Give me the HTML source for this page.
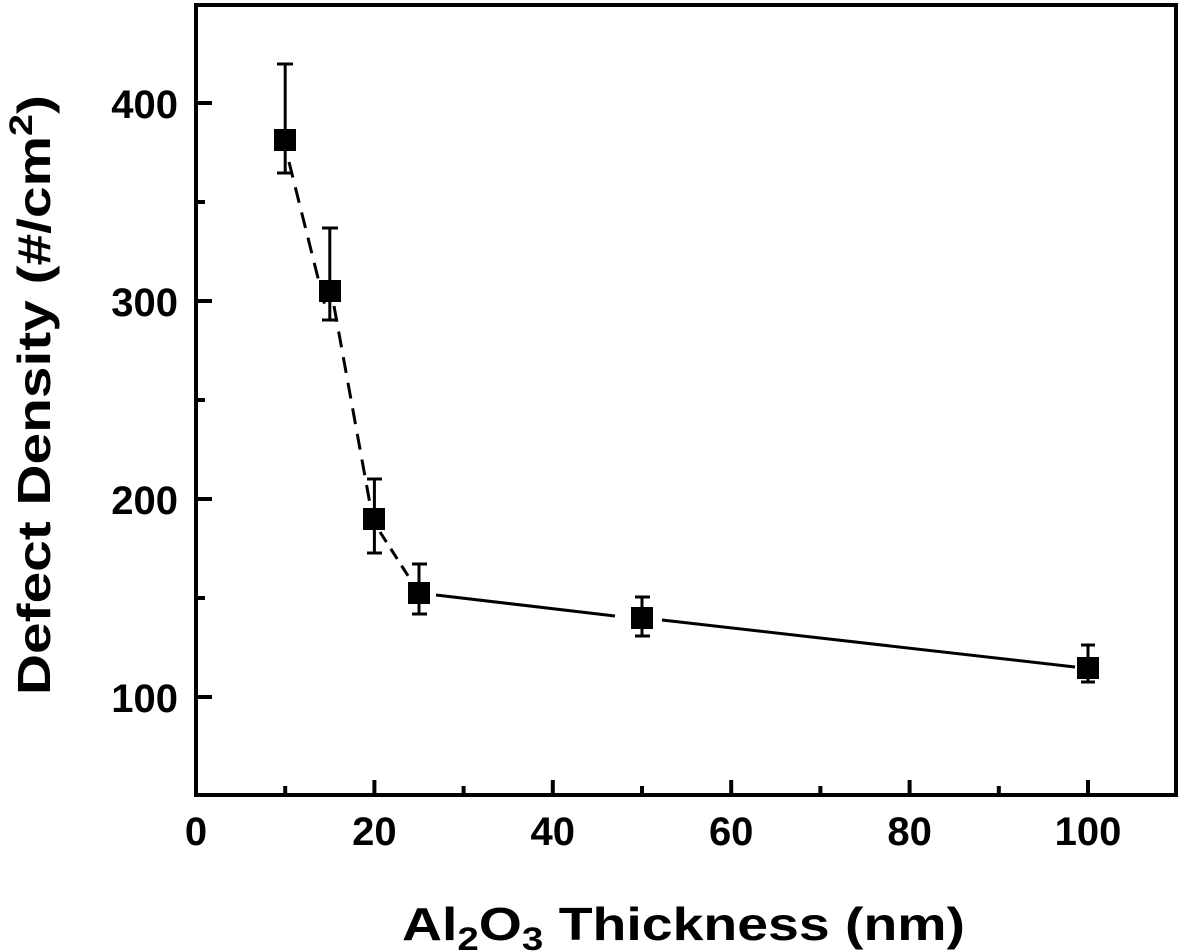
<!DOCTYPE html>
<html><head><meta charset="utf-8"><style>
html,body{margin:0;padding:0;background:#fff;}
svg{display:block;}
text{font-family:"Liberation Sans",Arial,sans-serif;font-weight:bold;fill:#000;}
</style></head><body>
<svg width="1181" height="951" viewBox="0 0 1181 951" xmlns="http://www.w3.org/2000/svg">
<rect x="196" y="5" width="980" height="790" fill="none" stroke="#000" stroke-width="4"/>
<g stroke="#000" stroke-width="4">
<!-- x major ticks -->
<line x1="196" y1="795" x2="196" y2="780"/>
<line x1="374.4" y1="795" x2="374.4" y2="780"/>
<line x1="552.8" y1="795" x2="552.8" y2="780"/>
<line x1="731.2" y1="795" x2="731.2" y2="780"/>
<line x1="909.6" y1="795" x2="909.6" y2="780"/>
<line x1="1088" y1="795" x2="1088" y2="780"/>
<!-- x minor -->
<line x1="285.2" y1="795" x2="285.2" y2="786"/>
<line x1="463.6" y1="795" x2="463.6" y2="786"/>
<line x1="642" y1="795" x2="642" y2="786"/>
<line x1="820.4" y1="795" x2="820.4" y2="786"/>
<line x1="998.8" y1="795" x2="998.8" y2="786"/>
<!-- y major -->
<line x1="196" y1="103" x2="212" y2="103"/>
<line x1="196" y1="301" x2="212" y2="301"/>
<line x1="196" y1="499" x2="212" y2="499"/>
<line x1="196" y1="697" x2="212" y2="697"/>
<!-- y minor -->
<line x1="196" y1="202" x2="205" y2="202"/>
<line x1="196" y1="400" x2="205" y2="400"/>
<line x1="196" y1="598" x2="205" y2="598"/>
</g>
<!-- tick labels -->
<g font-size="40" text-anchor="end">
<text x="178" y="118">400</text>
<text x="178" y="316">300</text>
<text x="178" y="514">200</text>
<text x="178" y="712">100</text>
</g>
<g font-size="40" text-anchor="middle">
<text x="196" y="845">0</text>
<text x="374.4" y="845">20</text>
<text x="552.8" y="845">40</text>
<text x="731.2" y="845">60</text>
<text x="909.6" y="845">80</text>
<text x="1088" y="845">100</text>
</g>
<!-- axis labels -->
<text x="402" y="940" font-size="46" textLength="563" lengthAdjust="spacingAndGlyphs">Al<tspan font-size="32" dy="10">2</tspan><tspan dy="-10">O</tspan><tspan font-size="32" dy="10">3</tspan><tspan dy="-10"> Thickness (nm)</tspan></text>
<text transform="translate(50,695) rotate(-90)" x="0" y="0" font-size="46" textLength="600" lengthAdjust="spacingAndGlyphs">Defect Density (#/cm<tspan font-size="32" dy="-18">2</tspan><tspan dy="18">)</tspan></text>
<!-- lines -->
<g stroke="#000" stroke-width="3" fill="none">
<polyline points="289,162 325,306" stroke-dasharray="16,10"/>
<polyline points="334,306 370,504" stroke-dasharray="16,10"/>
<polyline points="380,532 412,582" stroke-dasharray="12,8"/>
<line x1="436" y1="595" x2="615" y2="616"/>
<line x1="662" y1="620" x2="1075" y2="667"/>
</g>
<!-- error bars -->
<g stroke="#000" stroke-width="3">
<line x1="285.2" y1="64" x2="285.2" y2="173"/><line x1="277" y1="64" x2="293" y2="64"/><line x1="277" y1="173" x2="293" y2="173"/>
<line x1="329.8" y1="228" x2="329.8" y2="320"/><line x1="322" y1="228" x2="338" y2="228"/><line x1="322" y1="320" x2="338" y2="320"/>
<line x1="374.4" y1="479" x2="374.4" y2="553"/><line x1="367" y1="479" x2="382" y2="479"/><line x1="367" y1="553" x2="382" y2="553"/>
<line x1="419" y1="564" x2="419" y2="614"/><line x1="412" y1="564" x2="427" y2="564"/><line x1="412" y1="614" x2="427" y2="614"/>
<line x1="642" y1="597" x2="642" y2="636"/><line x1="635" y1="597" x2="650" y2="597"/><line x1="635" y1="636" x2="650" y2="636"/>
<line x1="1088" y1="645" x2="1088" y2="682"/><line x1="1081" y1="645" x2="1095" y2="645"/><line x1="1081" y1="682" x2="1095" y2="682"/>
</g>
<!-- markers -->
<g fill="#000">
<rect x="274" y="129" width="22" height="22"/>
<rect x="319" y="280" width="22" height="22"/>
<rect x="363" y="508" width="22" height="22"/>
<rect x="408" y="582" width="22" height="22"/>
<rect x="631" y="607" width="22" height="22"/>
<rect x="1077" y="657" width="22" height="22"/>
</g>
</svg>
</body></html>
